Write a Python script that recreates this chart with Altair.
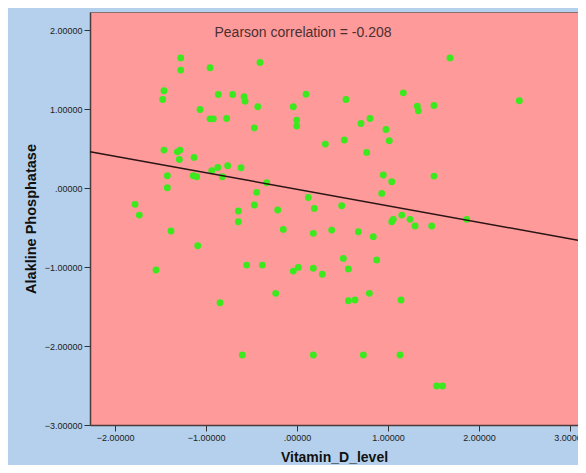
import altair as alt
import pandas as pd

# Scatter points (Vitamin_D_level, Alakline Phosphatase)
vit_d = [-1.278, -1.278, -0.956, -0.407, -1.462, -1.476, -0.865, -0.707, -0.582, -0.571,
         -0.432, -1.066, -0.956, -0.920, -0.773, -0.469, -0.041, -0.003, -0.003, 0.099,
         0.311, -1.462, -1.315, -1.286, -1.293, -1.132, -0.937, -0.871, -0.762, -0.615,
         -0.821, -1.425, -1.425, -1.140, -1.102, -0.333, -0.443, 0.124, 1.681, 1.168,
         0.538, 2.443, 1.322, 1.333, 1.505, 0.802, 0.703, 0.978, 1.014, 0.520,
         0.766, 0.948, 1.041, 1.505, 0.931, -1.780, -1.733, -0.645, -0.645, -0.469,
         -0.212, 0.190, -1.385, -1.091, -0.151, 0.179, 0.381, -1.549, -0.553, -0.381,
         -0.041, 0.014, 0.179, 0.278, -0.234, -0.846, -0.601, 0.179, 0.491, 0.674,
         0.838, 1.041, 1.058, 1.151, 1.242, 1.297, 1.480, 1.865, 0.509, 0.564,
         0.876, 0.795, 0.564, 0.637, 1.143, 0.729, 1.132, 1.535, 1.600]
alk_p = [1.649, 1.494, 1.523, 1.591, 1.232, 1.123, 1.186, 1.186, 1.156, 1.101,
         1.029, 0.996, 0.877, 0.877, 0.882, 0.763, 1.029, 0.861, 0.785, 1.190,
         0.557, 0.481, 0.459, 0.481, 0.363, 0.389, 0.219, 0.262, 0.282, 0.257,
         0.143, 0.156, 0.004, 0.156, 0.143, 0.067, -0.054, -0.118, 1.649, 1.206,
         1.123, 1.105, 1.038, 0.978, 1.047, 0.882, 0.819, 0.743, 0.599, 0.608,
         0.452, 0.165, 0.080, 0.152, -0.067, -0.206, -0.342, -0.291, -0.427, -0.215,
         -0.278, -0.257, -0.544, -0.730, -0.523, -0.573, -0.532, -1.038, -0.975, -0.975,
         -1.051, -1.004, -1.016, -1.092, -1.333, -1.452, -2.114, -2.114, -0.224, -0.553,
         -0.616, -0.427, -0.396, -0.342, -0.396, -0.481, -0.481, -0.396, -0.890, -1.025,
         -0.911, -1.333, -1.427, -1.418, -1.418, -2.114, -2.114, -2.506, -2.506]

# Fit line end points
line_x = [-2.275, 3.088]
line_y = [0.46, -0.66]

# Annotation
note_text = ["Pearson correlation = -0.208"]
note_x = [0.066]
note_y = [1.96]

x_ticks = [-2, -1, 0, 1, 2, 3]
y_ticks = [-3, -2, -1, 0, 1, 2]

pts = pd.DataFrame({"Vitamin_D_level": vit_d, "Alkp": alk_p})
ln = pd.DataFrame({"Vitamin_D_level": line_x, "Alkp": line_y})
note = pd.DataFrame({"t": note_text, "Vitamin_D_level": note_x, "Alkp": note_y})

label_expr = "datum.value == 0 ? '.00000' : format(datum.value, '.5f')"

xs = alt.Scale(domain=[-2.275, 3.088], nice=False, zero=False)
ys = alt.Scale(domain=[-3.0, 2.23], nice=False, zero=False)

xenc = alt.X("Vitamin_D_level:Q", scale=xs,
             axis=alt.Axis(title="Vitamin_D_level", values=x_ticks, labelExpr=label_expr,
                           titlePadding=8, titleFontSize=14))
yenc = alt.Y("Alkp:Q", scale=ys,
             axis=alt.Axis(title="Alakline Phosphatase", values=y_ticks, labelExpr=label_expr,
                           titlePadding=6, titleFontSize=14.5))

points = alt.Chart(pts).mark_circle(size=48, color="#3CE81E", opacity=1).encode(x=xenc, y=yenc)
line = alt.Chart(ln).mark_line(color="#2a1414", strokeWidth=1.5).encode(x=xenc, y=yenc)
text = alt.Chart(note).mark_text(font="Liberation Sans", fontSize=14, color="#4a3030").encode(
    x=xenc, y=yenc, text="t:N")

chart = alt.layer(points, line, text).properties(
    width=488, height=413,
    background="#B4D0EC",
    padding={"left": 82, "top": 4, "right": 0, "bottom": 40},
    autosize=alt.AutoSizeParams(type="none"),
).configure_view(
    fill="#FF9A9A", stroke="#8a7070", strokeWidth=1
).configure_axis(
    grid=False,
    labelFont="Liberation Sans", labelFontSize=9, labelColor="#222222",
    titleFont="Liberation Sans", titleFontWeight="bold", titleColor="#111111",
    domainColor="#4a3a3a", domainWidth=1.5, tickColor="#333333", tickSize=6, labelPadding=2,
)

chart.save("out.html", embed_options={"renderer": "svg", "actions": False})
